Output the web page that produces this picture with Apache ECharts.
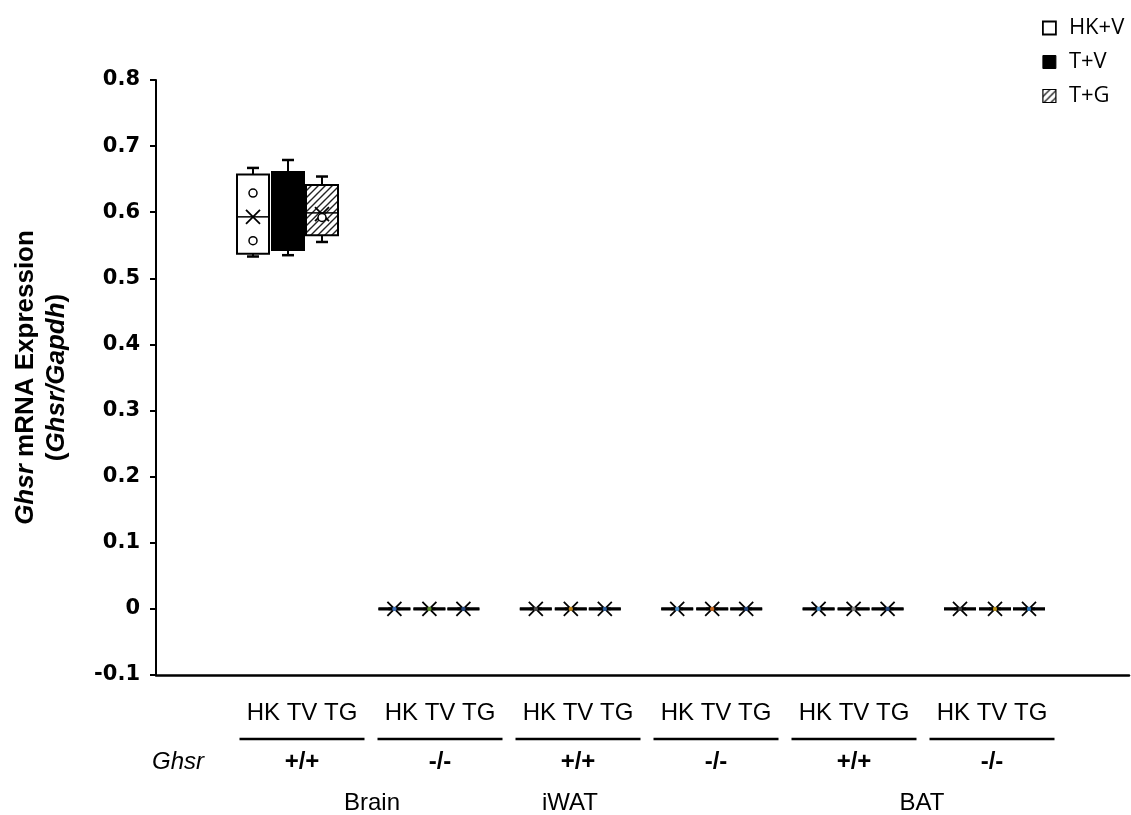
<!DOCTYPE html>
<html>
<head>
<meta charset="utf-8">
<script src="https://cdn.jsdelivr.net/npm/echarts@6/dist/echarts.min.js"></script>
<style>
html, body { margin: 0; padding: 0; background: #fff; }
#chart { width: 1131px; height: 815px; }
</style>
</head>
<body>
<div id="chart"></div>
<script>
// x groups
const tissues = ['Brain', 'iWAT', 'BAT'];
const genotypes = ['+/+', '-/-', '+/+', '-/-', '+/+', '-/-'];
const groupKeys = ['Brain +/+', 'Brain -/-', 'iWAT +/+', 'iWAT -/-', 'BAT +/+', 'BAT -/-'];
const treatments = ['HK+V', 'T+V', 'T+G'];
const treatLabel = 'HK TV TG';

// y axis ticks
const yMin = -0.1, yMax = 0.8, yStep = 0.1;

// [min, Q1, median, Q3, max] for each group
const hkBox = [
  [0.533, 0.537, 0.593, 0.657, 0.667],
  [0, 0, 0, 0, 0], [0, 0, 0, 0, 0], [0, 0, 0, 0, 0], [0, 0, 0, 0, 0], [0, 0, 0, 0, 0]
];
const tvBox = [
  [0.535, 0.543, 0.600, 0.661, 0.679],
  [0, 0, 0, 0, 0], [0, 0, 0, 0, 0], [0, 0, 0, 0, 0], [0, 0, 0, 0, 0], [0, 0, 0, 0, 0]
];
const tgBox = [
  [0.555, 0.565, 0.599, 0.641, 0.654],
  [0, 0, 0, 0, 0], [0, 0, 0, 0, 0], [0, 0, 0, 0, 0], [0, 0, 0, 0, 0], [0, 0, 0, 0, 0]
];
// means (x marker)
const hkMean = [0.593, 0, 0, 0, 0, 0];
const tvMean = [0.600, 0, 0, 0, 0, 0];
const tgMean = [0.597, 0, 0, 0, 0, 0];
// inner points [group, value]
const hkPoints = [[0, 0.629], [0, 0.557]];
const tvPoints = [];
const tgPoints = [[0, 0.592]];
// colour of the tiny dot under each zero marker
const hkDots = [null, '#3f6fb5', '#4a4a4a', '#4f8fc8', '#4f8fc8', '#3a3a3a'];
const tvDots = [null, '#5b8a30', '#b8801a', '#c0641e', '#7f7f7f', '#b8901a'];
const tgDots = [null, '#24457a', '#2e5e9a', '#24457a', '#24457a', '#2e75b6'];

const BOX_W = 32;

function hatch() {
  const c = document.createElement('canvas');
  c.width = 7; c.height = 7;
  const g = c.getContext('2d');
  g.fillStyle = '#fff';
  g.fillRect(0, 0, 7, 7);
  g.strokeStyle = '#222';
  g.lineWidth = 1.4;
  g.beginPath();
  g.moveTo(0, 7); g.lineTo(7, 0);
  g.moveTo(-1, 1); g.lineTo(1, -1);
  g.moveTo(6, 8); g.lineTo(8, 6);
  g.stroke();
  return c;
}
const hatchFill = { image: hatch(), repeat: 'repeat' };

const fills = ['#fff', '#000', hatchFill];
const boxes = [hkBox, tvBox, tgBox];
const means = [hkMean, tvMean, tgMean];
const points = [hkPoints, tvPoints, tgPoints];
const dots = [hkDots, tvDots, tgDots];

function boxRenderer(k) {
  return function (params, api) {
    const g = api.value(0);
    const pt = i => api.coord([g, api.value(i)]);
    const x = pt(1)[0];
    const yLo = pt(1)[1], yQ1 = pt(2)[1], yMed = pt(3)[1], yQ3 = pt(4)[1], yHi = pt(5)[1], yMean = pt(6)[1];
    const flat = Math.abs(yQ1 - yQ3) < 0.5;
    const h = BOX_W / 2, cap = 6, xs = 7;
    const ln = (x1, y1, x2, y2, w) => ({
      type: 'line', shape: { x1, y1, x2, y2 }, style: { stroke: '#000', lineWidth: w }
    });
    const children = [
      ln(x, yQ3, x, yHi, 2), ln(x - cap, yHi, x + cap, yHi, 2.5),
      ln(x, yQ1, x, yLo, 2), ln(x - cap, yLo, x + cap, yLo, 2.5),
      {
        type: 'rect',
        shape: { x: x - h, y: yQ3, width: BOX_W, height: yQ1 - yQ3 },
        style: { fill: fills[k], stroke: '#000', lineWidth: flat ? 3.2 : 2 }
      },
      ln(x - h, yMed, x + h, yMed, 1.5),
      ln(x - xs, yMean - xs, x + xs, yMean + xs, 1.8),
      ln(x - xs, yMean + xs, x + xs, yMean - xs, 1.8)
    ];
    const dc = dots[k][params.dataIndex];
    if (dc) {
      children.push({ type: 'circle', shape: { cx: x, cy: yMean, r: 2.2 }, style: { fill: dc } });
    }
    return { type: 'group', children };
  };
}

// grid geometry: each treatment gets its own band axis shifted inside the group
const TOP = 80, BOTTOM = 140;
const BAND = 141.4;
const firstCenters = [253, 288, 322];

const grids = [{ left: 156, right: 2, top: TOP, bottom: BOTTOM }];
const xAxes = [{
  gridIndex: 0, type: 'value', min: 0, max: 1,
  axisLine: { show: true, onZero: false, lineStyle: { color: '#000', width: 2.5 } },
  axisTick: { show: false }, axisLabel: { show: false }, splitLine: { show: false }
}];
const yAxes = [{
  gridIndex: 0, type: 'value', min: yMin, max: yMax, interval: yStep,
  axisLine: { show: true, onZero: false, lineStyle: { color: '#000', width: 2 } },
  axisTick: { show: true, length: 6, lineStyle: { color: '#000', width: 2 } },
  splitLine: { show: false },
  axisLabel: {
    margin: 16, color: '#000', fontFamily: 'DejaVu Sans', fontWeight: 'bold', fontSize: 21
  },
  name: '{i|Ghsr}{n| mRNA Expression}\n{n|(}{i|Ghsr/Gapdh}{n|)}',
  nameLocation: 'middle', nameRotate: 90, nameGap: 84,
  nameTextStyle: {
    lineHeight: 31,
    rich: {
      i: { fontFamily: 'Liberation Sans', fontSize: 26, fontWeight: 'bold', fontStyle: 'italic', color: '#000', lineHeight: 31 },
      n: { fontFamily: 'Liberation Sans', fontSize: 26, fontWeight: 'bold', color: '#000', lineHeight: 31 }
    }
  }
}];
const series = [];

treatments.forEach((name, k) => {
  const gi = k + 1;
  grids.push({ left: firstCenters[k] - BAND / 2, width: BAND * 6, top: TOP, bottom: BOTTOM });
  xAxes.push({ gridIndex: gi, type: 'category', data: groupKeys, show: false });
  yAxes.push({ gridIndex: gi, type: 'value', min: yMin, max: yMax, show: false });
  series.push({
    name, type: 'custom', xAxisIndex: gi, yAxisIndex: gi,
    itemStyle: { color: k === 1 ? '#000' : '#fff' },
    renderItem: boxRenderer(k),
    encode: { x: 0, y: [1, 2, 3, 4, 5, 6] },
    data: boxes[k].map((b, i) => [i].concat(b, [means[k][i]])),
    z: 3
  });
  series.push({
    name: name + ' points', type: 'scatter', xAxisIndex: gi, yAxisIndex: gi,
    symbol: 'circle', symbolSize: 8,
    itemStyle: { color: '#fff', borderColor: '#000', borderWidth: 1.5, opacity: 1 },
    data: points[k], z: 4
  });
});

// group label axis
grids.push({ left: 233, width: 138 * 6, top: TOP, bottom: BOTTOM });
xAxes.push({
  gridIndex: 4, type: 'category', data: groupKeys,
  axisLine: { show: false }, axisTick: { show: false }, splitLine: { show: false },
  axisLabel: {
    interval: 0, margin: 24,
    formatter: (v, i) => '{t|' + treatLabel + '}\n{ln|}\n{g|' + genotypes[i] + '}',
    rich: {
      t: { fontFamily: 'Liberation Sans', fontSize: 24, color: '#000', lineHeight: 28 },
      ln: { width: 125, height: 2.5, lineHeight: 24, backgroundColor: '#000' },
      g: { fontFamily: 'Liberation Sans', fontSize: 24, fontWeight: 'bold', color: '#000', lineHeight: 22 }
    }
  }
});
yAxes.push({ gridIndex: 4, type: 'value', min: yMin, max: yMax, show: false });

const tissueX = [372, 570, 922];
const graphic = tissues.map((t, i) => ({
  type: 'text', x: tissueX[i], y: 803,
  style: { text: t, fontFamily: 'Liberation Sans', fontSize: 24, fill: '#000', align: 'center', verticalAlign: 'middle' }
}));
graphic.push({
  type: 'text', x: 204, y: 762,
  style: { text: 'Ghsr', fontFamily: 'Liberation Sans', fontSize: 24, fontStyle: 'italic', fill: '#000', align: 'right', verticalAlign: 'middle' }
});

const chart = echarts.init(document.getElementById('chart'), null, { renderer: 'canvas' });
chart.setOption({
  animation: false,
  backgroundColor: '#fff',
  grid: grids,
  xAxis: xAxes,
  yAxis: yAxes,
  legend: {
    orient: 'vertical', left: 1037, top: 12,
    itemWidth: 13, itemHeight: 13, itemGap: 12, selectedMode: false,
    textStyle: { fontFamily: 'Open Sans', fontSize: 22, color: '#000', padding: [0, 0, 0, 8] },
    data: [
      { name: 'HK+V', icon: 'rect', itemStyle: { color: '#fff', borderColor: '#000', borderWidth: 1.8 } },
      { name: 'T+V', icon: 'rect', itemStyle: { color: '#000', borderColor: '#000', borderWidth: 1 } },
      { name: 'T+G', icon: 'rect', itemStyle: { color: hatchFill, borderColor: '#000', borderWidth: 1.2 } }
    ]
  },
  graphic,
  series
});
</script>
</body>
</html>
